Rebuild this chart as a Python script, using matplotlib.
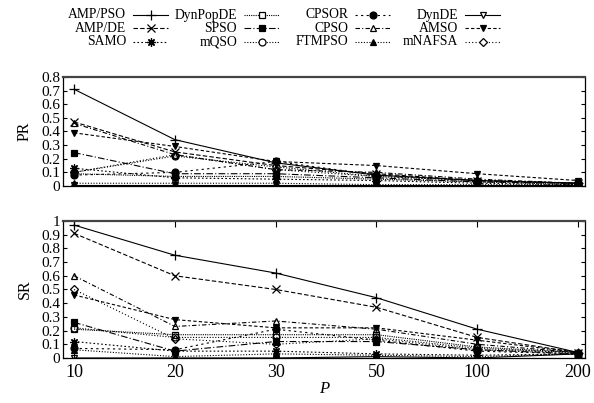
import numpy as np
import matplotlib.pyplot as plt
from matplotlib.lines import Line2D

plt.rcParams['font.family'] = ['Liberation Serif', 'DejaVu Serif']

# population sizes (categorical axis)
p_labels = ['10', '20', '30', '50', '100', '200']

names = ['AMP/PSO', 'AMP/DE', 'SAMO', 'DynPopDE', 'SPSO', 'mQSO',
         'CPSOR', 'CPSO', 'FTMPSO', 'DynDE', 'AMSO', 'mNAFSA']

# PR values
pr_amp_pso = [0.71, 0.34, 0.17, 0.08, 0.04, 0.02]
pr_amp_de = [0.47, 0.25, 0.15, 0.09, 0.04, 0.02]
pr_samo = [0.13, 0.06, 0.05, 0.04, 0.02, 0.01]
pr_dynpopde = [0.09, 0.07, 0.07, 0.05, 0.03, 0.01]
pr_spso = [0.245, 0.09, 0.09, 0.06, 0.03, 0.02]
pr_mqso = [0.10, 0.22, 0.14, 0.07, 0.04, 0.02]
pr_cpsor = [0.08, 0.10, 0.18, 0.08, 0.04, 0.02]
pr_cpso = [0.46, 0.23, 0.12, 0.10, 0.05, 0.02]
pr_ftmpso = [0.02, 0.02, 0.02, 0.01, 0.01, 0.01]
pr_dynde = [0.01, 0.01, 0.01, 0.01, 0.01, 0.01]
pr_amso = [0.39, 0.29, 0.18, 0.15, 0.09, 0.04]
pr_mnafsa = [0.10, 0.23, 0.12, 0.07, 0.04, 0.02]

# SR values
sr_amp_pso = [0.97, 0.75, 0.62, 0.44, 0.21, 0.04]
sr_amp_de = [0.91, 0.60, 0.50, 0.37, 0.15, 0.04]
sr_samo = [0.12, 0.05, 0.05, 0.03, 0.02, 0.03]
sr_dynpopde = [0.21, 0.17, 0.17, 0.17, 0.08, 0.04]
sr_spso = [0.26, 0.05, 0.12, 0.12, 0.06, 0.03]
sr_mqso = [0.22, 0.15, 0.15, 0.15, 0.07, 0.04]
sr_cpsor = [0.07, 0.06, 0.21, 0.13, 0.05, 0.03]
sr_cpso = [0.60, 0.23, 0.27, 0.21, 0.10, 0.04]
sr_ftmpso = [0.06, 0.01, 0.03, 0.02, 0.01, 0.03]
sr_dynde = [0.0, 0.0, 0.0, 0.01, 0.0, 0.03]
sr_amso = [0.46, 0.28, 0.22, 0.22, 0.13, 0.04]
sr_mnafsa = [0.50, 0.14, 0.10, 0.14, 0.06, 0.04]

pr_data = [pr_amp_pso, pr_amp_de, pr_samo, pr_dynpopde, pr_spso, pr_mqso,
           pr_cpsor, pr_cpso, pr_ftmpso, pr_dynde, pr_amso, pr_mnafsa]
sr_data = [sr_amp_pso, sr_amp_de, sr_samo, sr_dynpopde, sr_spso, sr_mqso,
           sr_cpsor, sr_cpso, sr_ftmpso, sr_dynde, sr_amso, sr_mnafsa]

# (linestyle, marker, filled, markersize)
styles = [
    ('-', '+', True, 7),
    ((0, (4, 2)), 'x', True, 6),
    ((0, (1.5, 2)), (8, 2, 0), True, 6),
    ((0, (1, 1)), 's', False, 5),
    ((0, (6, 2, 1, 2)), 's', True, 5),
    ((0, (1, 1.5)), 'o', False, 5),
    ((0, (2, 3)), 'o', True, 5),
    ((0, (4, 2, 1, 2)), '^', False, 5),
    ((0, (1, 1.5)), '^', True, 4.5),
    ('-', 'v', False, 5),
    ((0, (3, 2)), 'v', True, 5),
    ((0, (1, 2)), 'D', False, 4.5),
]

x = np.arange(len(p_labels))

fig = plt.figure(figsize=(5.94, 4.03), dpi=100)
ax1 = fig.add_axes([0.106, 0.5385, 0.879, 0.2705])
ax2 = fig.add_axes([0.106, 0.1117, 0.879, 0.340])


def draw(ax, data):
    for vals, (ls, mk, filled, ms) in zip(data, styles):
        ax.plot(x, vals, color='black', lw=0.8, linestyle=ls, marker=mk,
                ms=ms, mew=0.9, mfc='black' if filled else 'none',
                mec='black')
    ax.set_xlim(-0.11, 5.07)
    ax.spines['top'].set_linewidth(1.6)
    ax.spines['top'].set_color('#444444')
    for s in ['left', 'right', 'bottom']:
        ax.spines[s].set_linewidth(0.9)
    ax.tick_params(axis='y', direction='in', right=True, length=3,
                   labelsize=11, pad=2)


draw(ax1, pr_data)
ax1.set_ylim(0, 0.8)
ax1.set_yticks(np.arange(0, 0.81, 0.1))
ax1.set_yticklabels(['0', '0.1', '0.2', '0.3', '0.4', '0.5', '0.6', '0.7', '0.8'])
ax1.set_xticks([])
ax1.set_ylabel('PR', fontsize=11.5, labelpad=6)

draw(ax2, sr_data)
ax2.set_ylim(0, 1)
ax2.set_yticks(np.arange(0, 1.01, 0.1))
ax2.set_yticklabels(['0', '0.1', '0.2', '0.3', '0.4', '0.5', '0.6', '0.7',
                     '0.8', '0.9', '1'])
ax2.set_xticks(x)
ax2.set_xticklabels(p_labels)
ax2.tick_params(axis='x', direction='in', top=True, length=4, labelsize=13, pad=4)
ax2.set_ylabel('SR', fontsize=11.5, labelpad=6)
ax2.set_xlabel('P', fontsize=12, style='italic', labelpad=0)

# legend drawn gnuplot-style: right aligned text, sample line after it
col_right = [126, 237, 348, 458]
row_y = [15, 28.3, 41.7]
W, H = 594.0, 403.0
for i, (name, (ls, mk, filled, ms)) in enumerate(zip(names, styles)):
    c, r = i // 3, i % 3
    xr = col_right[c]
    yy = 1 - row_y[r] / H
    fig.text(xr / W, yy, name, ha='right', va='center', fontsize=9.8)
    fig.add_artist(Line2D([(xr + 7) / W, (xr + 42) / W], [yy, yy],
                          color='black', lw=0.8, linestyle=ls,
                          transform=fig.transFigure))
    fig.add_artist(Line2D([(xr + 25) / W], [yy], marker=mk, ms=ms,
                          mew=0.9, mfc='black' if filled else 'white',
                          mec='black', linestyle='none',
                          transform=fig.transFigure))

fig.savefig('out.png', dpi=100)
